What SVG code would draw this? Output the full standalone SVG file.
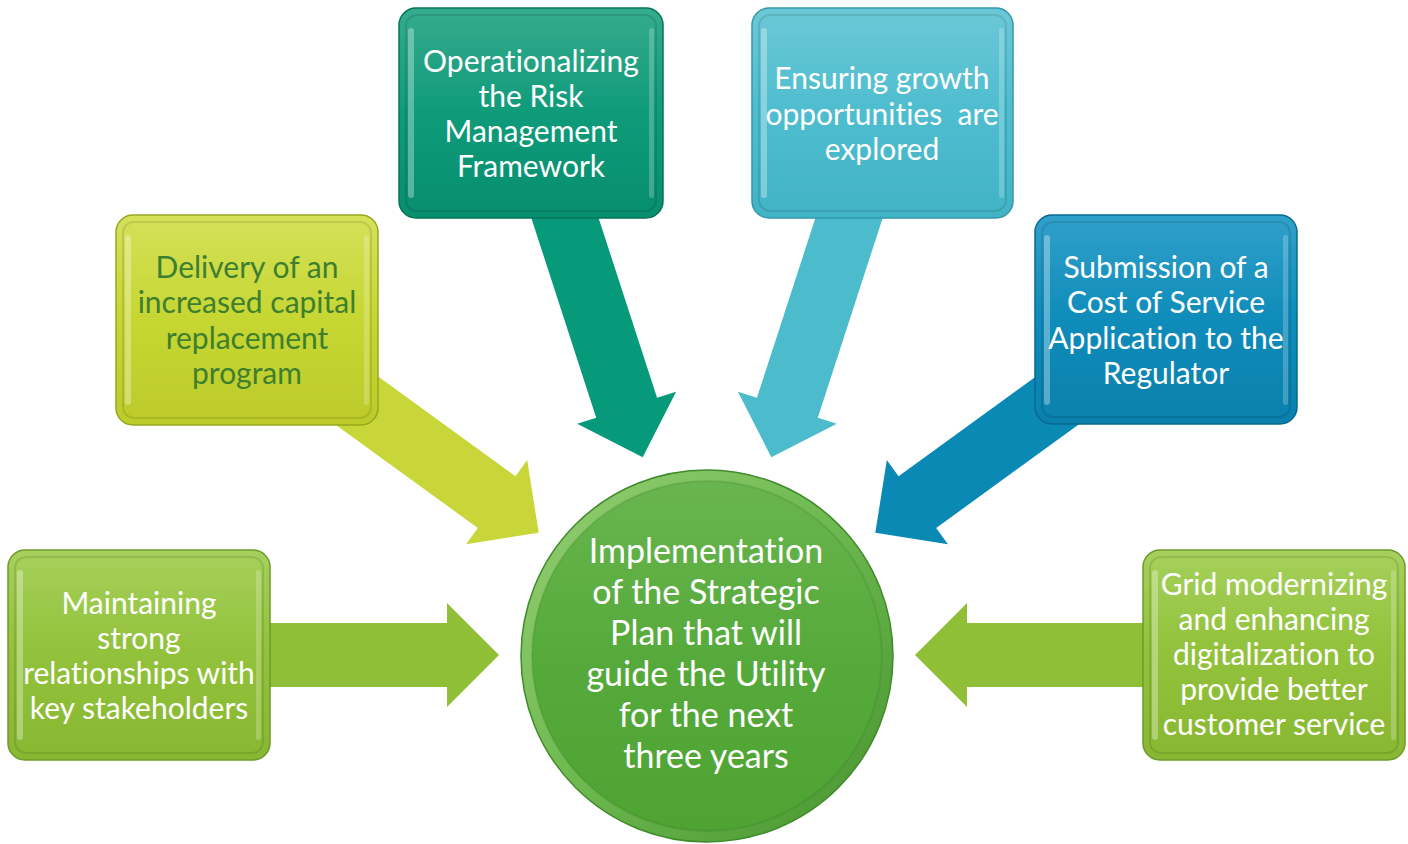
<svg xmlns="http://www.w3.org/2000/svg" xmlns:xlink="http://www.w3.org/1999/xlink" width="1408" height="844" viewBox="0 0 1408 844">
  <style>
    .lbl { font-family: Lato, "Open Sans", "Liberation Sans", sans-serif; font-size: 30px; text-anchor: middle; fill: #ffffff; font-variant-ligatures: none; }
    .lbl.dark { fill: #3d7f2f; }
    .hub { font-family: Lato, "Open Sans", "Liberation Sans", sans-serif; font-size: 34px; text-anchor: middle; fill: #ffffff; font-variant-ligatures: none; }
    .bevel { fill: none; stroke: #000000; stroke-opacity: 0.10; stroke-width: 2; }
    .shine { fill: #ffffff; fill-opacity: 0.32; }
    .shineR { fill: #ffffff; fill-opacity: 0.22; }
  </style>
  <defs>
    <!-- radial arrow pointing along +x, tip at origin -->
    <path id="arrow" d="M0,0 L-52,-52 L-52,-32 L-360,-32 L-360,32 L-52,32 L-52,52 Z"/>
    <linearGradient id="gGreen" x1="0" y1="0" x2="0" y2="1">
      <stop offset="0" stop-color="#a6d05c"/>
      <stop offset="0.45" stop-color="#93c33d"/>
      <stop offset="1" stop-color="#88b832"/>
    </linearGradient>
    <linearGradient id="gLime" x1="0" y1="0" x2="0" y2="1">
      <stop offset="0" stop-color="#d5e15a"/>
      <stop offset="0.5" stop-color="#c6d632"/>
      <stop offset="1" stop-color="#bccb2a"/>
    </linearGradient>
    <linearGradient id="gTeal" x1="0" y1="0" x2="0" y2="1">
      <stop offset="0" stop-color="#35ab8d"/>
      <stop offset="0.5" stop-color="#0f9b7a"/>
      <stop offset="1" stop-color="#078e6f"/>
    </linearGradient>
    <linearGradient id="gCyan" x1="0" y1="0" x2="0" y2="1">
      <stop offset="0" stop-color="#6cc8d6"/>
      <stop offset="0.5" stop-color="#4dbdcf"/>
      <stop offset="1" stop-color="#42b3c5"/>
    </linearGradient>
    <linearGradient id="gBlue" x1="0" y1="0" x2="0" y2="1">
      <stop offset="0" stop-color="#30a0ca"/>
      <stop offset="0.5" stop-color="#0f8cba"/>
      <stop offset="1" stop-color="#0a80ad"/>
    </linearGradient>
    <linearGradient id="gHub" x1="0" y1="0" x2="0" y2="1">
      <stop offset="0" stop-color="#69b54f"/>
      <stop offset="0.5" stop-color="#56aa3b"/>
      <stop offset="1" stop-color="#4ea333"/>
    </linearGradient>
    <linearGradient id="gRim" x1="0" y1="0" x2="1" y2="1">
      <stop offset="0" stop-color="#95cf74"/>
      <stop offset="0.5" stop-color="#6db84f"/>
      <stop offset="1" stop-color="#45932f"/>
    </linearGradient>
  </defs>

  <!-- connectors: wide block arrows running from each box centre toward the hub -->
  <g id="connectors">
    <use xlink:href="#arrow" href="#arrow" fill="#8fbf36" transform="translate(499,655)"/>
    <use xlink:href="#arrow" href="#arrow" fill="#c9d63a" transform="translate(538.7,532.7) rotate(36)"/>
    <use xlink:href="#arrow" href="#arrow" fill="#079a7a" transform="translate(642.7,457.2) rotate(72)"/>
    <use xlink:href="#arrow" href="#arrow" fill="#4cbccc" transform="translate(771.3,457.2) rotate(108)"/>
    <use xlink:href="#arrow" href="#arrow" fill="#0b89b5" transform="translate(875.3,532.7) rotate(144)"/>
    <use xlink:href="#arrow" href="#arrow" fill="#8fbf36" transform="translate(915,655) rotate(180)"/>
  </g>

  <g id="node-stakeholders">
    <rect x="8" y="550" width="262" height="210" rx="17" fill="url(#gGreen)" stroke="#6d9a2b" stroke-width="1.5"/>
    <rect x="15" y="557" width="248" height="196" rx="11" class="bevel"/>
    <rect x="17" y="570" width="6" height="170" rx="3" class="shine"/>
    <rect x="256" y="570" width="5" height="170" rx="2.5" class="shineR"/>
    <text class="lbl" x="139" y="614">Maintaining</text>
    <text class="lbl" x="139" y="649">strong</text>
    <text class="lbl" x="139" y="684">relationships with</text>
    <text class="lbl" x="139" y="719">key stakeholders</text>
  </g>

  <g id="node-capital">
    <rect x="116" y="215" width="262" height="210" rx="17" fill="url(#gLime)" stroke="#98a820" stroke-width="1.5"/>
    <rect x="123" y="222" width="248" height="196" rx="11" class="bevel"/>
    <rect x="125" y="235" width="6" height="170" rx="3" class="shine"/>
    <rect x="364" y="235" width="5" height="170" rx="2.5" class="shineR"/>
    <text class="lbl dark" x="247" y="278">Delivery of an</text>
    <text class="lbl dark" x="247" y="313">increased capital</text>
    <text class="lbl dark" x="247" y="349">replacement</text>
    <text class="lbl dark" x="247" y="384">program</text>
  </g>

  <g id="node-risk">
    <rect x="399" y="8" width="264" height="210" rx="17" fill="url(#gTeal)" stroke="#067558" stroke-width="1.5"/>
    <rect x="406" y="15" width="250" height="196" rx="11" class="bevel"/>
    <rect x="408" y="28" width="6" height="170" rx="3" class="shine"/>
    <rect x="649" y="28" width="5" height="170" rx="2.5" class="shineR"/>
    <text class="lbl" x="531" y="72">Operationalizing</text>
    <text class="lbl" x="531" y="107">the Risk</text>
    <text class="lbl" x="531" y="142">Management</text>
    <text class="lbl" x="531" y="177">Framework</text>
  </g>

  <g id="node-growth">
    <rect x="752" y="8" width="261" height="210" rx="17" fill="url(#gCyan)" stroke="#3399aa" stroke-width="1.5"/>
    <rect x="759" y="15" width="247" height="196" rx="11" class="bevel"/>
    <rect x="761" y="28" width="6" height="170" rx="3" class="shine"/>
    <rect x="999" y="28" width="5" height="170" rx="2.5" class="shineR"/>
    <text class="lbl" x="882" y="89">Ensuring growth</text>
    <text class="lbl" x="882" y="125" xml:space="preserve">opportunities  are</text>
    <text class="lbl" x="882" y="160">explored</text>
  </g>

  <g id="node-regulator">
    <rect x="1035" y="215" width="262" height="209" rx="17" fill="url(#gBlue)" stroke="#086a90" stroke-width="1.5"/>
    <rect x="1042" y="222" width="248" height="195" rx="11" class="bevel"/>
    <rect x="1044" y="235" width="6" height="170" rx="3" class="shine"/>
    <rect x="1283" y="235" width="5" height="170" rx="2.5" class="shineR"/>
    <text class="lbl" x="1166" y="278">Submission of a</text>
    <text class="lbl" x="1166" y="313">Cost of Service</text>
    <text class="lbl" x="1166" y="349">Application to the</text>
    <text class="lbl" x="1166" y="384">Regulator</text>
  </g>

  <g id="node-grid">
    <rect x="1143" y="550" width="262" height="210" rx="17" fill="url(#gGreen)" stroke="#6d9a2b" stroke-width="1.5"/>
    <rect x="1150" y="557" width="248" height="196" rx="11" class="bevel"/>
    <rect x="1152" y="570" width="6" height="170" rx="3" class="shine"/>
    <rect x="1391" y="570" width="5" height="170" rx="2.5" class="shineR"/>
    <text class="lbl" x="1274" y="595">Grid modernizing</text>
    <text class="lbl" x="1274" y="630">and enhancing</text>
    <text class="lbl" x="1274" y="665">digitalization to</text>
    <text class="lbl" x="1274" y="700">provide better</text>
    <text class="lbl" x="1274" y="735">customer service</text>
  </g>

  <g id="node-hub">
    <circle cx="707" cy="656" r="186" fill="url(#gRim)" stroke="#3f8a2a" stroke-width="1.5"/>
    <circle cx="707" cy="656" r="175" fill="url(#gHub)"/>
    <circle cx="707" cy="656" r="175" fill="none" stroke="#2f6e20" stroke-opacity="0.18" stroke-width="2"/>
    <text class="hub" x="706" y="563">Implementation</text>
    <text class="hub" x="706" y="604">of the Strategic</text>
    <text class="hub" x="706" y="645">Plan that will</text>
    <text class="hub" x="706" y="686">guide the Utility</text>
    <text class="hub" x="706" y="727">for the next</text>
    <text class="hub" x="706" y="768">three years</text>
  </g>
</svg>
